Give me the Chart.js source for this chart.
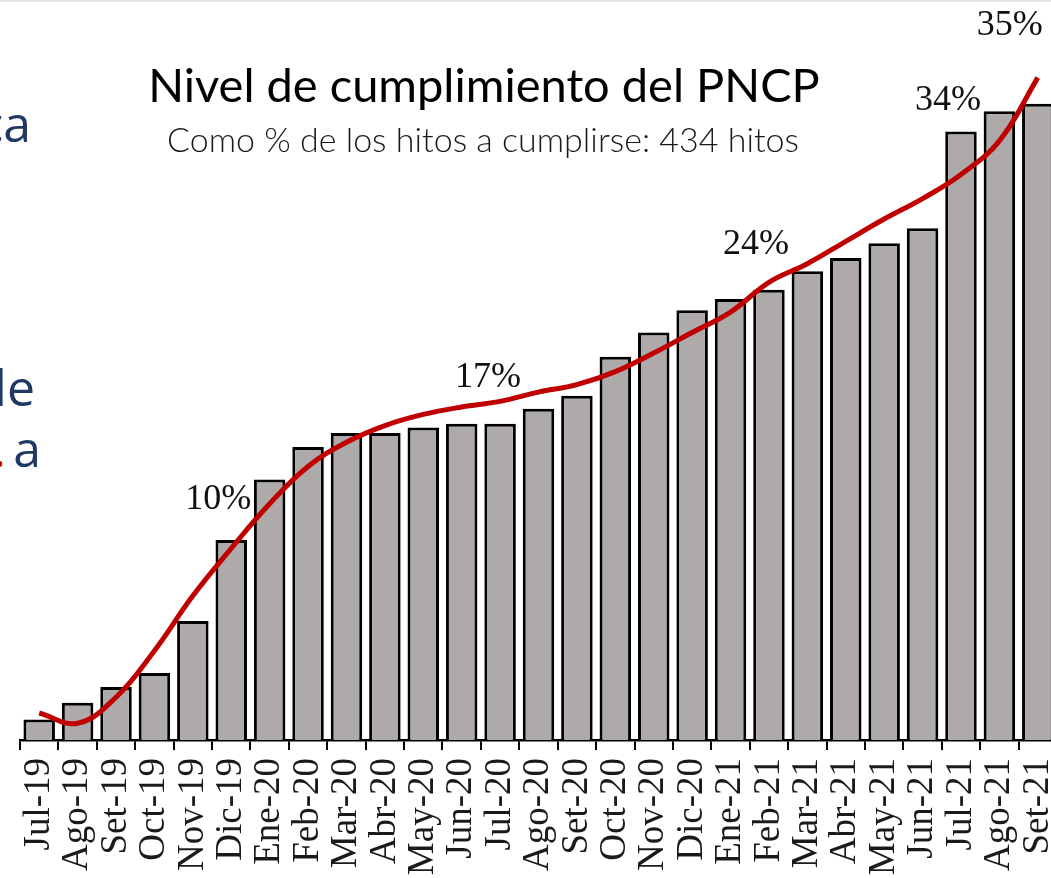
<!DOCTYPE html>
<html>
<head>
<meta charset="utf-8">
<script src="https://cdn.jsdelivr.net/npm/chart.js@4.4.0/dist/chart.umd.min.js"></script>
<style>
  html, body { margin: 0; padding: 0; width: 1051px; height: 878px; overflow: hidden; background: #fff; }
  #topline { position: absolute; left: 0; top: 0; width: 1051px; height: 2px; background: #e4e4e4; }
  #wrap { position: absolute; left: 0; top: 0; width: 1060px; height: 878px; }
  .side { position: absolute; font-family: "Open Sans", sans-serif; font-size: 50px; line-height: 1; color: #203864; white-space: nowrap; transform: translateX(-100%); }
  .head { position: absolute; font-family: Lato, "Open Sans", sans-serif; line-height: 1; white-space: nowrap; transform: translateX(-50%); }
  #title { left: 484px; top: 61px; font-size: 47px; font-weight: 400; color: #000; }
  #subtitle { left: 483px; top: 122px; font-size: 34px; font-weight: 300; color: #1a1a1a; }
</style>
</head>
<body>
<div id="wrap"><canvas id="chart"></canvas></div>
<div id="topline"></div>
<div class="side" style="left:31px; top:98px;">ca</div>
<div class="side" style="left:35px; top:362px;">de</div>
<div class="side" style="left:41px; top:423px;">a</div>
<div class="side" style="left:6px; top:423px; color:#c00000;">.</div>
<div class="head" id="title">Nivel de cumplimiento del PNCP</div>
<div class="head" id="subtitle">Como % de los hitos a cumplirse: 434 hitos</div>
<script>
// months of the plan, Jul-19 .. Set-21
const months = ['Jul-19', 'Ago-19', 'Set-19', 'Oct-19', 'Nov-19', 'Dic-19',
  'Ene-20', 'Feb-20', 'Mar-20', 'Abr-20', 'May-20', 'Jun-20', 'Jul-20', 'Ago-20',
  'Set-20', 'Oct-20', 'Nov-20', 'Dic-20', 'Ene-21', 'Feb-21', 'Mar-21', 'Abr-21',
  'May-21', 'Jun-21', 'Jul-21', 'Ago-21', 'Set-21'];

// % of milestones met
const barValues = [1.1, 2.0, 2.85, 3.6, 6.4, 10.75, 14.0, 15.75, 16.5, 16.5, 16.8,
  17.0, 17.0, 17.8, 18.5, 20.6, 21.9, 23.1, 23.7, 24.2, 25.2, 25.9, 26.7, 27.5,
  32.7, 33.8, 34.2];

// red trend curve
const trendValues = [1.45, 0.9, 2.3, 4.8, 7.75, 10.3, 12.7, 14.7, 16.0, 16.9, 17.5,
  17.9, 18.2, 18.7, 19.1, 19.8, 20.8, 21.9, 23.0, 24.6, 25.6, 26.8, 28.0, 29.1,
  30.4, 32.2, 35.6];

// callouts written over the chart
const calloutText = ['10%', '17%', '24%', '34%', '35%'];
const calloutMonth = ['Dic-19', 'Jul-20', 'Feb-21', 'Jul-21', 'Set-21'];

const callouts = {
  id: 'callouts',
  afterDatasetsDraw(chart, args, opts) {
    const {ctx, scales: {x, y}} = chart;
    ctx.save();
    ctx.font = opts.font;
    ctx.fillStyle = opts.color;
    ctx.textAlign = 'center';
    ctx.textBaseline = 'middle';
    calloutText.forEach((t, k) => {
      const i = months.indexOf(calloutMonth[k]);
      const [dx, dy] = opts.shift[k];
      ctx.fillText(t, x.getPixelForValue(i) + dx, y.getPixelForValue(barValues[i]) - dy);
    });
    ctx.restore();
  }
};

new Chart(document.getElementById('chart'), {
  type: 'bar',
  data: {
    labels: months,
    datasets: [
      {
        type: 'line',
        label: 'Tendencia',
        data: trendValues,
        borderColor: 'rgb(192, 0, 0)',
        borderWidth: 5,
        pointRadius: 0,
        tension: 0.4,
        fill: false,
        order: 0
      },
      {
        label: 'Cumplimiento',
        data: barValues,
        backgroundColor: '#aeaaaa',
        borderColor: '#000',
        borderWidth: 3,
        barPercentage: 0.82,
        categoryPercentage: 1.0,
        order: 1
      }
    ]
  },
  options: {
    responsive: true,
    maintainAspectRatio: false,
    animation: false,
    layout: { padding: { left: 20, right: 3, top: 33, bottom: 0 } },
    plugins: {
      legend: { display: false },
      tooltip: { enabled: false },
      callouts: {
        font: '36px "Liberation Serif", "Times New Roman", serif',
        color: '#111',
        shift: [[-13, 40], [-12, 46], [-13, 45], [-13, 31], [-28, 78]]
      }
    },
    scales: {
      x: {
        offset: true,
        grid: { display: true, offset: true, drawOnChartArea: false, tickLength: 10, color: '#000', lineWidth: 2 },
        border: { display: true, color: '#000', width: 2.5 },
        ticks: {
          autoSkip: false,
          minRotation: 90,
          maxRotation: 90,
          padding: 8,
          color: '#1a1a1a',
          font: { family: '"Liberation Serif", "Times New Roman", serif', size: 37 }
        },
        afterFit: (s) => { s.height = 138; s.paddingLeft = 0; s.paddingRight = 0; }
      },
      y: { display: false, min: 0, max: 38 }
    }
  },
  plugins: [callouts]
});
</script>
</body>
</html>
